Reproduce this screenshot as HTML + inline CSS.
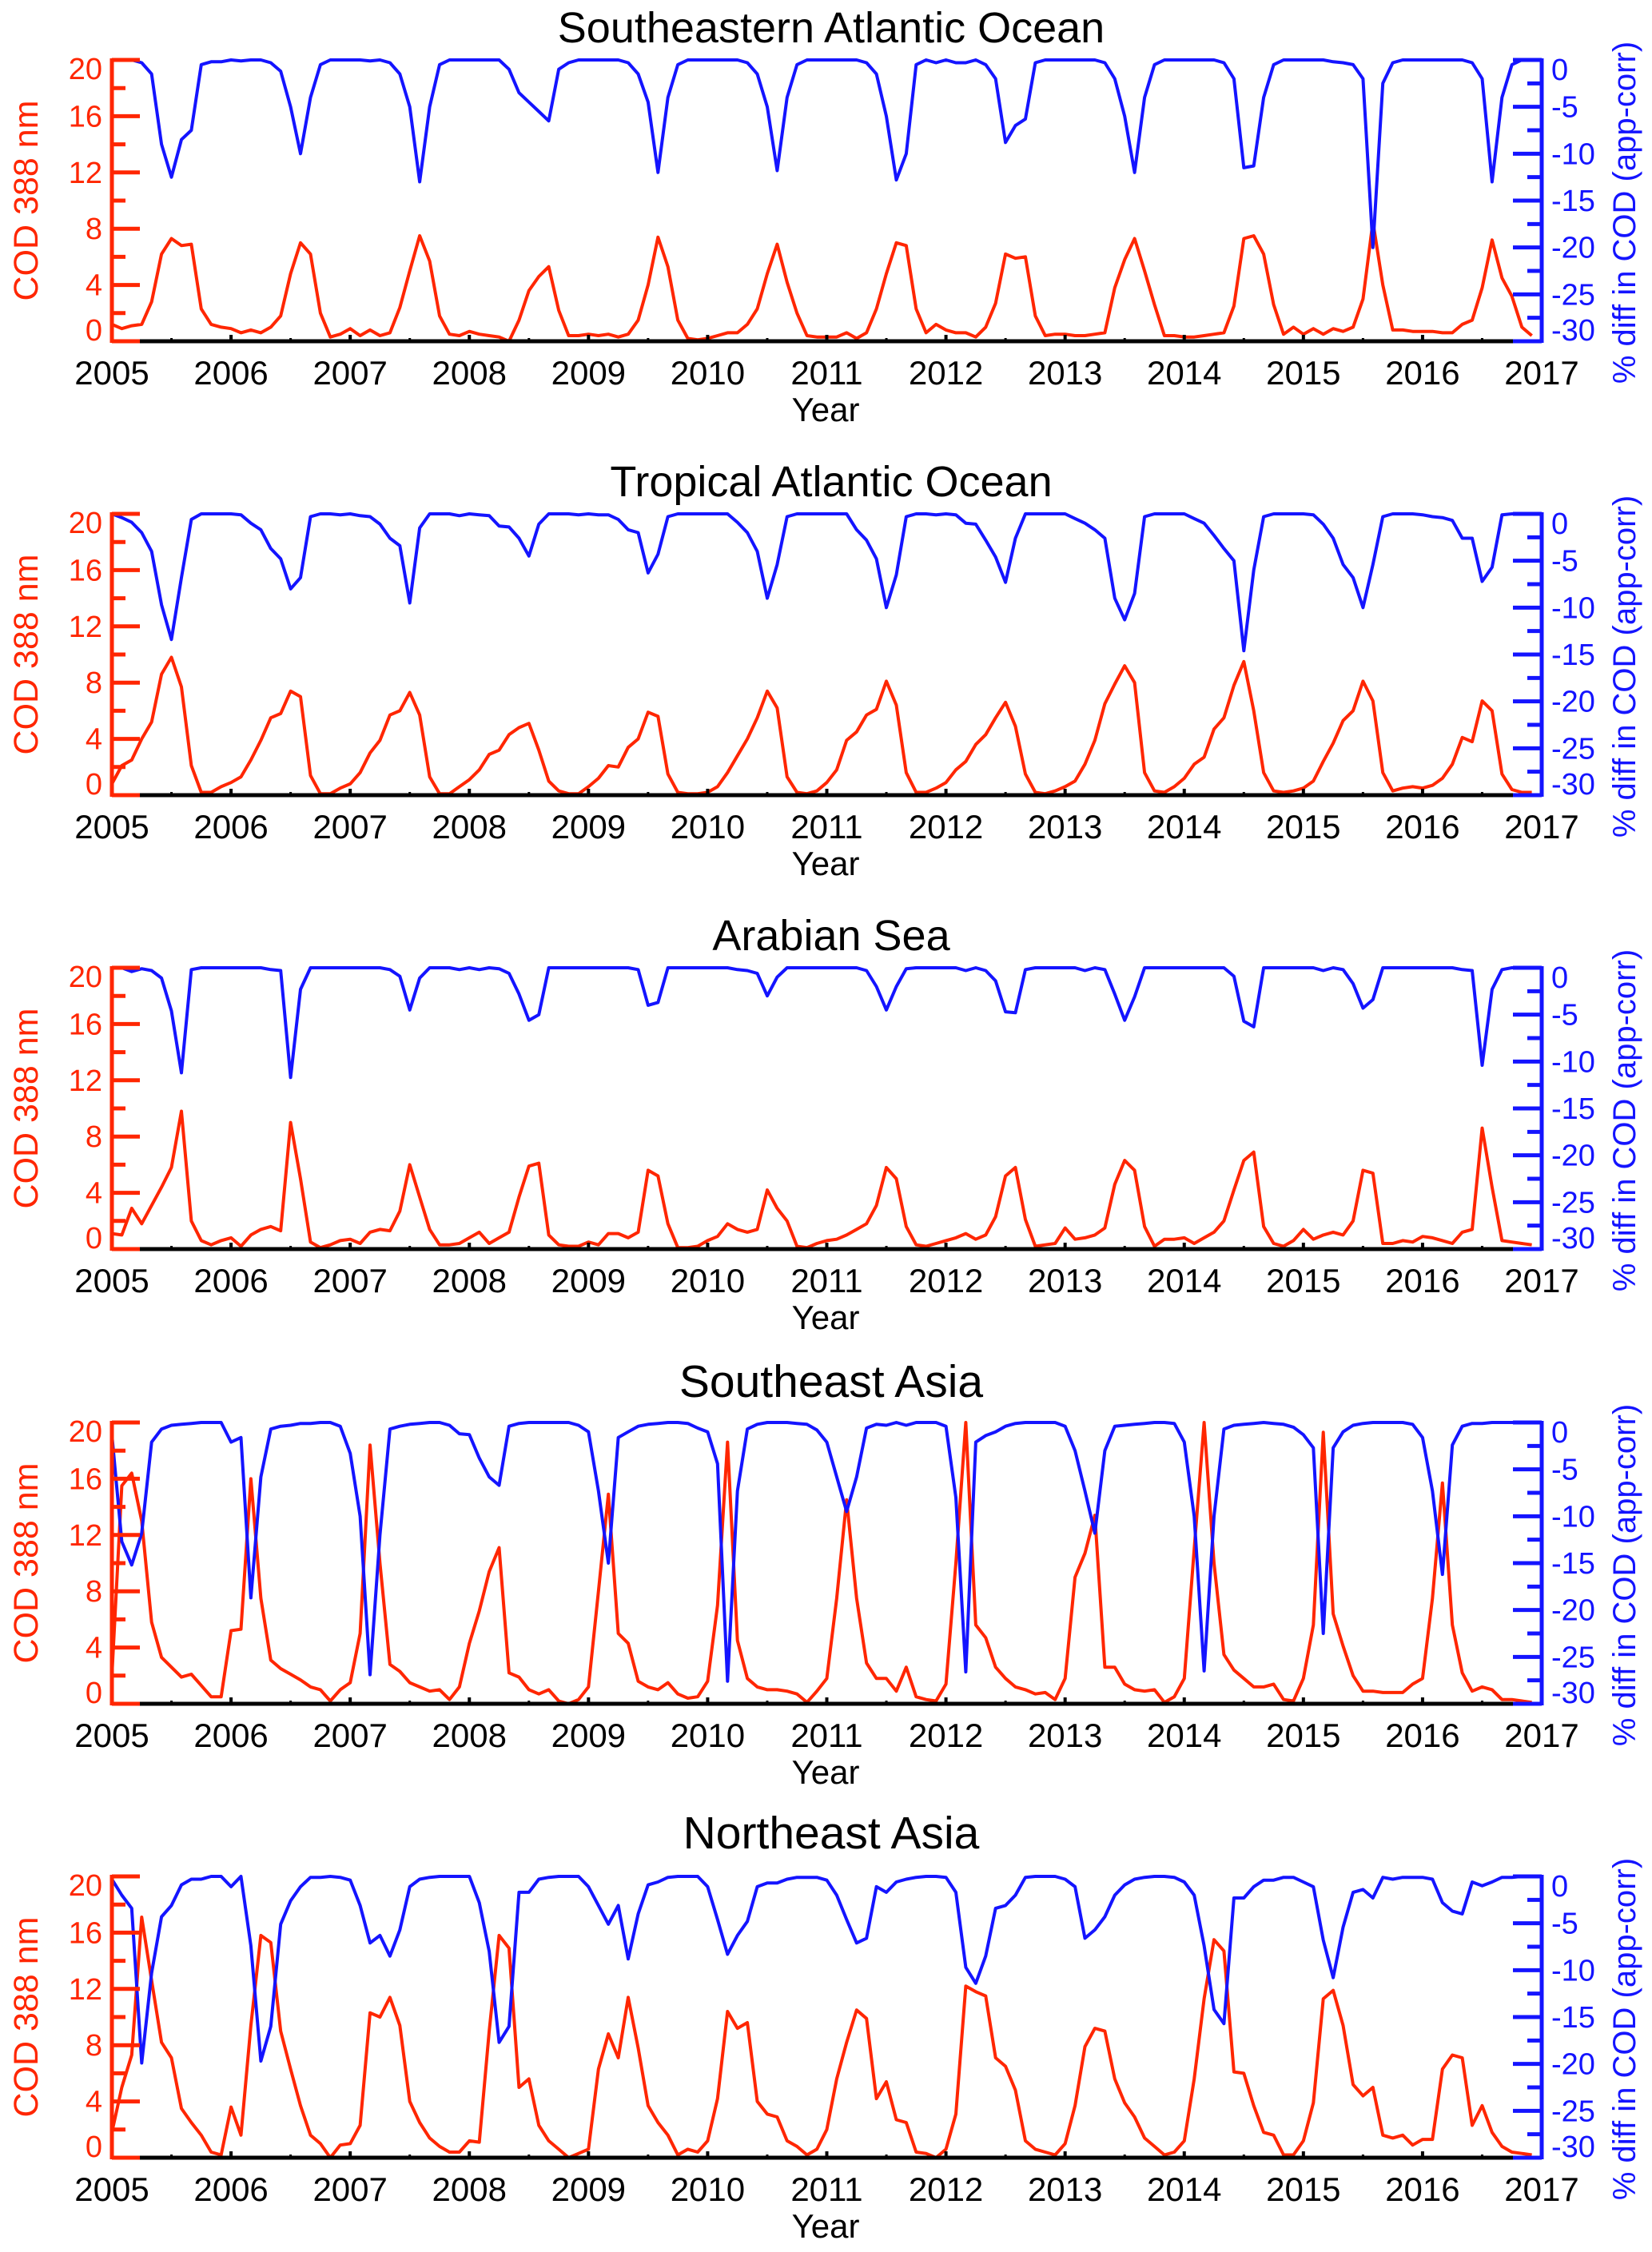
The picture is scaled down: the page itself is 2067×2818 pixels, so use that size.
<!DOCTYPE html>
<html><head><meta charset="utf-8"><title>COD 388 nm and % diff by region</title>
<style>
html,body{margin:0;padding:0;background:#fff;}
svg{display:block;font-family:"Liberation Sans",Arial,sans-serif;}
</style></head>
<body>
<svg id="chart" xmlns="http://www.w3.org/2000/svg" width="2067" height="2818" viewBox="0 0 2067 2818"></svg>
<script>
const yearLabels=["2005","2006","2007","2008","2009","2010","2011","2012","2013","2014","2015","2016","2017"];
const redTicks=[0,4,8,12,16,20];
const blueTicks=[0,-5,-10,-15,-20,-25,-30];
const panelTitles=["Southeastern Atlantic Ocean","Tropical Atlantic Ocean","Arabian Sea","Southeast Asia","Northeast Asia"];

const codSEAtl=[1.2,0.9,1.1,1.2,2.8,6.2,7.3,6.8,6.9,2.3,1.2,1.0, 0.9,0.6,0.8,0.6,1.0,1.8,4.8,7.0,6.2,2.0,0.3,0.5, 0.9,0.4,0.8,0.4,0.6,2.4,5.0,7.5,5.7,1.8,0.5,0.4, 0.7,0.5,0.4,0.3,0.0,1.5,3.6,4.6,5.3,2.2,0.4,0.4, 0.5,0.4,0.5,0.3,0.5,1.5,4.0,7.4,5.3,1.5,0.2,0.1, 0.2,0.4,0.6,0.6,1.2,2.3,4.8,6.9,4.2,2.0,0.4,0.3, 0.3,0.3,0.6,0.2,0.6,2.3,4.8,7.0,6.8,2.3,0.6,1.2, 0.8,0.6,0.6,0.3,1.0,2.7,6.2,5.9,6.0,1.8,0.4,0.5, 0.5,0.4,0.4,0.5,0.6,3.8,5.8,7.3,5.0,2.6,0.4,0.4, 0.3,0.3,0.4,0.5,0.6,2.5,7.3,7.5,6.2,2.6,0.5,1.0, 0.5,0.9,0.5,0.9,0.7,1.0,3.0,8.5,4.0,0.8,0.8,0.7, 0.7,0.7,0.6,0.6,1.2,1.5,3.8,7.2,4.5,3.2,1.0,0.4];
const diffSEAtl=[0,0,0,-0.3,-1.5,-9,-12.5,-8.5,-7.5,-0.5,-0.2,-0.2, 0,-0.1,0,0,-0.3,-1.2,-5,-10,-4,-0.5,0,0, 0,0,-0.1,0,-0.3,-1.5,-5,-13,-5,-0.5,0,0, 0,0,0,0,-1,-3.5,-4.5,-5.5,-6.5,-1,-0.3,0, 0,0,0,0,-0.3,-1.5,-4.5,-12,-4,-0.5,0,0, 0,0,0,0,-0.3,-1.5,-5,-11.8,-4,-0.5,0,0, 0,0,0,0,-0.3,-1.5,-6,-12.8,-10,-0.5,0,-0.3, 0,-0.3,-0.3,0,-0.5,-2,-8.8,-7,-6.3,-0.3,0,0, 0,0,0,0,-0.3,-2,-6,-12,-4,-0.5,0,0, 0,0,0,0,-0.3,-2,-11.5,-11.3,-4,-0.5,0,0, 0,0,0,-0.2,-0.3,-0.5,-2,-20,-2.5,-0.3,0,0, 0,0,0,0,0,-0.3,-2,-13,-4,-0.5,0,0];

const codTrAtl=[0.8,2.1,2.5,4.0,5.2,8.6,9.8,7.7,2.1,0.2,0.2,0.6, 0.9,1.3,2.5,3.9,5.5,5.8,7.4,7.0,1.4,0.1,0.1,0.5, 0.8,1.6,3.0,3.9,5.7,6.0,7.3,5.7,1.3,0.1,0.1,0.6, 1.1,1.8,2.9,3.2,4.3,4.8,5.1,3.2,1.0,0.3,0.1,0.1, 0.6,1.2,2.1,2.0,3.4,4.0,5.9,5.6,1.5,0.2,0.1,0.1, 0.2,0.6,1.6,2.8,4.0,5.5,7.4,6.2,1.3,0.2,0.1,0.3, 0.9,1.8,3.9,4.5,5.7,6.1,8.1,6.4,1.6,0.2,0.2,0.5, 0.9,1.8,2.4,3.6,4.3,5.5,6.6,4.9,1.5,0.2,0.1,0.3, 0.6,1.0,2.2,3.9,6.5,7.9,9.2,8.0,1.6,0.3,0.2,0.6, 1.2,2.2,2.7,4.7,5.5,7.8,9.5,6.0,1.6,0.3,0.2,0.3, 0.5,1.0,2.4,3.7,5.3,6.0,8.1,6.7,1.6,0.3,0.5,0.6, 0.5,0.7,1.2,2.2,4.1,3.8,6.7,6.0,1.5,0.4,0.2,0.2];
const diffTrAtl=[0,-0.4,-0.9,-2,-4,-9.7,-13.4,-6.8,-0.6,0,0,0, 0,-0.1,-1.0,-1.7,-3.7,-4.8,-8,-6.8,-0.3,0,0,-0.1, 0,-0.2,-0.3,-1.1,-2.6,-3.4,-9.5,-1.5,0,0,0,-0.2, 0,-0.1,-0.2,-1.3,-1.4,-2.6,-4.5,-1.1,0,0,0,-0.1, 0,-0.1,-0.1,-0.6,-1.7,-2,-6.3,-4.3,-0.3,0,0,0, 0,0,0,-0.9,-2,-4,-9,-5.4,-0.3,0,0,0, 0,0,0,-1.7,-2.8,-4.8,-10,-6.5,-0.3,0,0,-0.1, 0,-0.1,-1,-1.1,-2.8,-4.6,-7.3,-2.6,0,0,0,0, 0,-0.5,-1,-1.7,-2.6,-9,-11.3,-8.5,-0.3,0,0,0, 0,-0.5,-1,-2.3,-3.7,-5,-14.6,-6,-0.3,0,0,0, 0,-0.1,-1.1,-2.6,-5.4,-6.8,-10,-5.4,-0.3,0,0,0, -0.1,-0.3,-0.4,-0.7,-2.6,-2.6,-7.2,-5.7,-0.1,0,0,0];

const codArab=[1.1,1.0,2.9,1.8,3.1,4.4,5.8,9.8,2.0,0.6,0.3,0.6, 0.8,0.2,1.0,1.4,1.6,1.3,9.0,5.0,0.5,0.1,0.3,0.6, 0.7,0.4,1.2,1.4,1.3,2.7,6.0,3.7,1.4,0.3,0.3,0.4, 0.8,1.2,0.4,0.8,1.2,3.7,5.9,6.1,1.0,0.3,0.2,0.2, 0.5,0.3,1.1,1.1,0.8,1.2,5.6,5.2,1.8,0.1,0.1,0.2, 0.6,0.9,1.8,1.4,1.2,1.4,4.2,2.9,2.0,0.2,0.1,0.4, 0.6,0.7,1.0,1.4,1.8,3.1,5.8,5.0,1.6,0.3,0.2,0.4, 0.6,0.8,1.1,0.7,1.0,2.3,5.2,5.8,2.1,0.2,0.3,0.4, 1.5,0.7,0.8,1.0,1.5,4.6,6.3,5.6,1.6,0.2,0.7,0.7, 0.8,0.4,0.8,1.2,2.0,4.2,6.3,6.9,1.6,0.4,0.2,0.6, 1.4,0.7,1.0,1.2,1.0,2.0,5.6,5.4,0.4,0.4,0.6,0.5, 0.9,0.8,0.6,0.4,1.2,1.4,8.6,4.4,0.6,0.5,0.4,0.3];
const diffArab=[0,0,-0.4,-0.1,-0.3,-1.1,-4.6,-11.2,-0.2,0,0,0, 0,0,0,0,-0.2,-0.3,-11.7,-2.3,0,0,0,0, 0,0,0,0,-0.2,-0.9,-4.5,-1.1,0,0,0,-0.2, 0,-0.2,0,-0.1,-0.6,-2.8,-5.6,-5.0,0,0,0,0, 0,0,0,0,0,-0.2,-4.0,-3.7,0,0,0,0, 0,0,0,-0.2,-0.3,-0.6,-3.0,-1.0,0,0,0,0, 0,0,0,0,-0.3,-2.0,-4.5,-2.0,-0.1,0,0,0, 0,0,-0.3,0,-0.3,-1.4,-4.7,-4.8,-0.2,0,0,0, 0,0,-0.3,0,-0.2,-2.8,-5.6,-3.1,0,0,0,0, 0,0,0,0,0,-0.9,-5.7,-6.3,0,0,0,0, 0,0,-0.3,0,-0.2,-1.7,-4.3,-3.4,0,0,0,0, 0,0,0,0,-0.2,-0.3,-10.4,-2.3,-0.2,0,0,0];

const codSEAsia=[2.0,15.5,16.4,13.0,5.8,3.3,2.6,1.9,2.1,1.3,0.5,0.5, 5.2,5.3,16.0,7.5,3.1,2.5,2.1,1.7,1.2,1.0,0.2,1.0, 1.5,5.0,18.4,10.0,2.8,2.3,1.5,1.2,0.9,1.0,0.3,1.2, 4.3,6.6,9.4,11.1,2.2,1.9,1.0,0.7,1.0,0.2,0.0,0.3, 1.2,8.0,14.9,5.0,4.3,1.6,1.2,1.0,1.5,0.7,0.4,0.5, 1.6,7.0,18.6,4.5,1.8,1.2,1.0,1.0,0.9,0.7,0.1,0.9, 1.8,7.5,14.5,7.5,2.9,1.8,1.8,0.9,2.6,0.5,0.3,0.2, 1.4,10.0,20.0,5.6,4.7,2.6,1.8,1.2,1.0,0.7,0.8,0.3, 1.8,9.0,10.7,13.4,2.6,2.6,1.4,1.0,0.9,1.0,0.1,0.5, 1.8,11.0,20.0,10.0,3.5,2.4,1.8,1.2,1.2,1.4,0.3,0.2, 1.8,5.6,19.3,6.4,4.1,2.0,0.9,0.9,0.8,0.8,0.8,1.4, 1.8,7.5,15.7,5.6,2.2,0.9,1.2,1.0,0.3,0.3,0.2,0.1];
const diffSEAsia=[-1.3,-12.7,-15.2,-11.8,-2.1,-0.7,-0.3,-0.2,-0.1,0,0,0, -2.1,-1.6,-18.7,-5.8,-0.7,-0.4,-0.3,-0.1,-0.1,0,0,-0.4, -3.3,-10,-26.9,-12,-0.7,-0.4,-0.2,-0.1,0,0,-0.3,-1.2, -1.3,-3.8,-5.8,-6.7,-0.4,-0.1,0,0,0,0,0,-0.3, -1,-7.3,-15,-1.6,-1,-0.4,-0.2,-0.1,0,0,-0.1,-0.6, -1,-4.4,-27.6,-7.3,-0.7,-0.2,0,0,0,-0.1,-0.2,-0.8, -2.1,-5.8,-9.5,-5.8,-0.6,-0.2,-0.3,0,-0.3,0,0,0, -0.4,-8,-26.6,-2.1,-1.4,-1,-0.4,-0.1,0,0,0,0, -0.4,-3,-7.3,-11.8,-3,-0.4,-0.3,-0.2,-0.1,0,0,-0.1, -2.1,-10,-26.5,-10,-0.7,-0.3,-0.2,-0.1,0,-0.1,-0.2,-0.5, -1.3,-2.7,-22.5,-2.7,-1,-0.3,-0.1,0,0,0,0,-0.2, -1.6,-7.3,-16.2,-2.4,-0.4,-0.1,-0.1,0,0,0,0,0];

const codNEAsia=[1.8,5.0,7.3,17.1,12.6,8.2,7.1,3.5,2.5,1.6,0.4,0.2, 3.6,1.6,9.4,15.8,15.3,9.0,6.3,3.7,1.6,1.0,0.0,0.9, 1.0,2.3,10.3,10.0,11.4,9.4,4.0,2.5,1.4,0.8,0.4,0.4, 1.2,1.1,9.0,15.8,14.9,5.0,5.6,2.3,1.2,0.6,0.0,0.3, 0.6,6.3,8.8,7.1,11.4,7.8,3.7,2.5,1.6,0.2,0.6,0.4, 1.2,4.2,10.4,9.2,9.6,4.0,3.1,2.9,1.2,0.8,0.2,0.6, 2.0,5.6,8.2,10.5,9.9,4.2,5.4,2.7,2.5,0.4,0.3,0.0, 0.6,3.1,12.2,11.8,11.5,7.1,6.5,4.8,1.2,0.6,0.4,0.2, 1.0,3.7,7.9,9.2,9.0,5.6,3.9,2.9,1.4,0.8,0.2,0.4, 1.2,5.6,11.3,15.5,14.7,6.1,6.0,3.7,1.8,1.6,0.2,0.2, 1.2,3.9,11.3,11.9,9.4,5.2,4.4,5.0,1.6,1.4,1.6,0.9, 1.3,1.3,6.3,7.3,7.1,2.3,3.7,1.8,0.8,0.4,0.3,0.2];
const diffNEAsia=[-0.3,-2,-3.4,-19.9,-10.3,-4.3,-3.1,-0.9,-0.3,-0.3,0,0, -1.1,0,-7.4,-19.7,-16,-5.1,-2.6,-1.1,-0.1,-0.1,0,-0.1, -0.4,-3.1,-7.1,-6.3,-8.5,-5.7,-1.1,-0.3,-0.1,0,0,0, 0,-2.8,-8,-17.7,-16,-1.7,-1.7,-0.3,-0.1,0,0,0, -1.1,-3.1,-5.1,-3.1,-8.8,-4,-0.9,-0.6,-0.1,0,0,0, -1.1,-4.6,-8.3,-6.3,-4.8,-1.1,-0.7,-0.7,-0.3,-0.1,-0.1,-0.1, -0.4,-2,-4.6,-7.1,-6.6,-1.1,-1.7,-0.6,-0.3,-0.1,0,0, -0.1,-1.7,-9.7,-11.4,-8.5,-3.4,-3.1,-2,-0.1,0,0,0, -0.3,-1.1,-6.6,-5.7,-4.3,-2,-0.9,-0.3,-0.1,0,0,-0.1, -0.6,-2,-7.4,-14.2,-15.7,-2.3,-2.3,-1.1,-0.4,-0.4,-0.1,-0.1, -0.6,-1.1,-6.8,-10.8,-5.4,-1.7,-1.4,-2.3,-0.1,-0.3,-0.1,-0.1, -0.1,-0.3,-2.8,-3.7,-4,-0.6,-1,-0.6,-0.1,-0.1,0,0];

const redSeries=[codSEAtl,codTrAtl,codArab,codSEAsia,codNEAsia];
const blueSeries=[diffSEAtl,diffTrAtl,diffArab,diffSEAsia,diffNEAsia];

const NS="http://www.w3.org/2000/svg";
const svg=document.getElementById('chart');
const RED="#ff2600", BLUE="#1414ff";
const X0=140, X1=1929, H=352;
const tops=[75,643,1211,1780,2348];
const titleY=[53,621,1189,1748,2313];
const nYears=yearLabels.length-1;
function xYear(t){return X0+(t/nYears)*(X1-X0);}
function xMonth(i){return xYear(i/12);}
function yRed(top,v){return top+H*(1-v/20);}
function yBlue(top,v){return top+H*(-v/30);}
function mk(tag,attrs,parent){const e=document.createElementNS(NS,tag);for(const k in attrs)e.setAttribute(k,attrs[k]);(parent||svg).appendChild(e);return e;}

for(let p=0;p<5;p++){
  const top=tops[p], bot=top+H;
  const g=mk('g',{});
  
  
  const t=mk('text',{x:1040,y:titleY[p],'font-size':(p>=3?57:54),'text-anchor':'middle',fill:'#000'},g);
  t.textContent=panelTitles[p];
  
  
  // data lines
  const rp=redSeries[p].map((v,i)=>xMonth(i).toFixed(1)+','+yRed(top,v).toFixed(1)).join(' ');
  const rl=mk('polyline',{points:rp,fill:'none',stroke:RED,'stroke-width':4,'stroke-linejoin':'round'},g);
  
  
  const bp=blueSeries[p].map((v,i)=>xMonth(i).toFixed(1)+','+yBlue(top,v).toFixed(1)).join(' ');
  const bl=mk('polyline',{points:bp,fill:'none',stroke:BLUE,'stroke-width':4,'stroke-linejoin':'round'},g);
  
  
  // bottom axis
  const xa=mk('line',{x1:X0,y1:bot,x2:X1,y2:bot,stroke:'#000','stroke-width':5},g);
  
  
  mk('line',{x1:X0,y1:bot,x2:X0+35,y2:bot,stroke:RED,'stroke-width':5},g);
  mk('line',{x1:X1-35,y1:bot,x2:X1,y2:bot,stroke:BLUE,'stroke-width':5},g);
  for(let k=0;k<=nYears;k++){
    const x=xYear(k);
    if(k>0&&k<nYears) mk('line',{x1:x,y1:bot,x2:x,y2:bot-8,stroke:'#000','stroke-width':4},g);
    if(k<nYears) mk('line',{x1:xYear(k+0.5),y1:bot,x2:xYear(k+0.5),y2:bot-4,stroke:'#000','stroke-width':3},g);
    const lt=mk('text',{x:x,y:bot+54,'font-size':42,'text-anchor':'middle',fill:'#000'},g);
    lt.textContent=yearLabels[k];
    
    
  }
  const xt=mk('text',{x:1033,y:bot+100,'font-size':42,'text-anchor':'middle',fill:'#000'},g);
  xt.textContent='Year';
  
  
  // left axis
  const la=mk('line',{x1:X0,y1:top-2,x2:X0,y2:bot+2,stroke:RED,'stroke-width':5},g);
  
  
  redTicks.forEach((v,j)=>{
    const y=yRed(top,v);
    mk('line',{x1:X0,y1:y,x2:X0+35,y2:y,stroke:RED,'stroke-width':5},g);
    if(j<redTicks.length-1){const ym=yRed(top,v+2);mk('line',{x1:X0,y1:ym,x2:X0+17,y2:ym,stroke:RED,'stroke-width':5},g);}
    let ly=y+13; if(j===0) ly=y-1; if(j===redTicks.length-1) ly=y+24;
    const lt=mk('text',{x:128,y:ly,'font-size':38,'text-anchor':'end',fill:RED},g);
    lt.textContent=String(v);
    
    
  });
  const lyt=mk('text',{x:0,y:0,'font-size':43,'text-anchor':'middle',fill:RED,transform:'translate(47,'+(top+H/2)+') rotate(-90)'},g);
  lyt.textContent='COD 388 nm';
  
  
  // right axis
  const ra=mk('line',{x1:X1,y1:top-2,x2:X1,y2:bot+2,stroke:BLUE,'stroke-width':5},g);
  
  
  blueTicks.forEach((v,j)=>{
    const y=yBlue(top,v);
    mk('line',{x1:X1,y1:y,x2:X1-36,y2:y,stroke:BLUE,'stroke-width':5},g);
    if(j<blueTicks.length-1){const ym=yBlue(top,v-2.5);mk('line',{x1:X1,y1:ym,x2:X1-18,y2:ym,stroke:BLUE,'stroke-width':5},g);}
    let ly=y+13; if(j===0) ly=y+25; if(j===blueTicks.length-1) ly=y-1;
    const lt=mk('text',{x:1941,y:ly,'font-size':38,'text-anchor':'start',fill:BLUE},g);
    lt.textContent=String(v);
    
    
  });
  const ryt=mk('text',{x:0,y:0,'font-size':40,'text-anchor':'middle',fill:BLUE,transform:'translate(2046,'+(top+H/2+15)+') rotate(-90)'},g);
  ryt.textContent='% diff in COD (app-corr)';
  
  
}
</script>
</body></html>
